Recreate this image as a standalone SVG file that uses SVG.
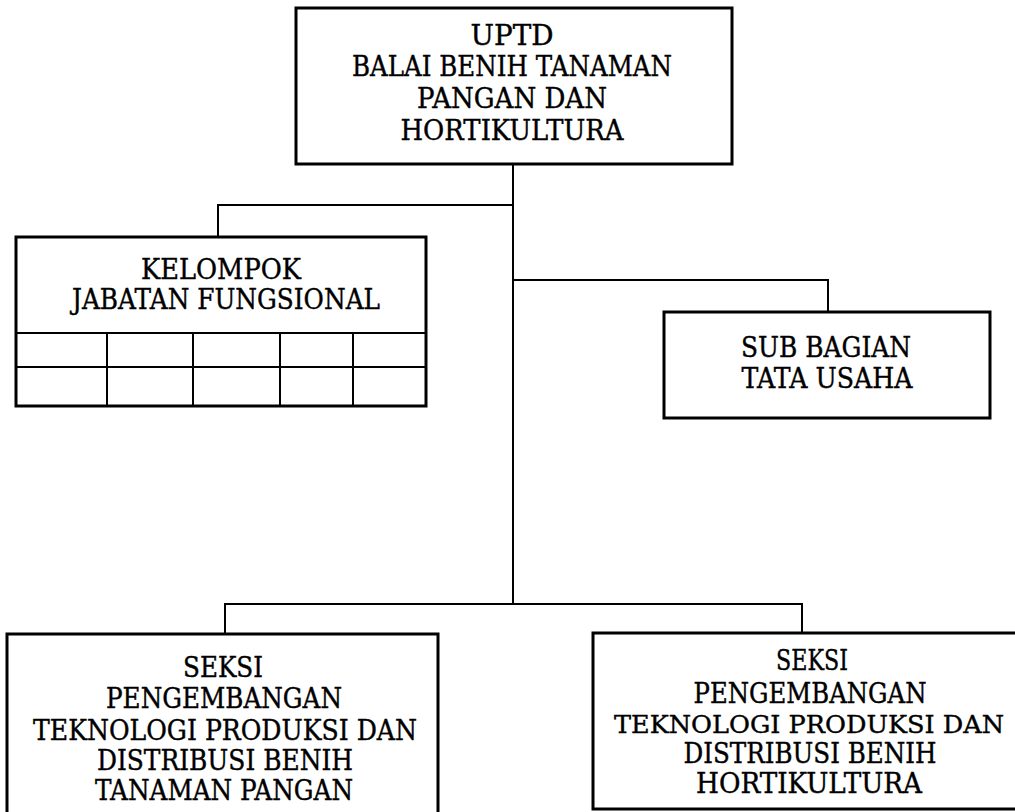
<svg xmlns="http://www.w3.org/2000/svg" width="1015" height="812" viewBox="0 0 1015 812">
<style>
.box{fill:#fff;stroke:#000;stroke-width:3}
.ln{fill:none;stroke:#000;stroke-width:2}
.cell{stroke:#000;stroke-width:2}
text{font-family:"DejaVu Serif","Liberation Serif",serif;font-size:28px;fill:#000;stroke:#000;stroke-width:0.4;text-anchor:middle}
.s{font-size:27px}
.t{font-size:25px}
</style>
<rect width="1015" height="812" fill="#fff"/>
<g id="connectors">
<path class="ln" d="M513 164 V604"/>
<path class="ln" d="M513 205 H218 V237"/>
<path class="ln" d="M513 280 H828 V312"/>
<path class="ln" d="M225 634 V604 H802 V633"/>
</g>
<g id="uptd">
<rect class="box" x="296" y="8" width="436" height="156"/>
<text x="512" y="45" textLength="83" lengthAdjust="spacingAndGlyphs">UPTD</text>
<text x="512" y="76" textLength="320" lengthAdjust="spacingAndGlyphs">BALAI BENIH TANAMAN</text>
<text x="512" y="108" textLength="190" lengthAdjust="spacingAndGlyphs">PANGAN DAN</text>
<text x="512" y="140" textLength="223" lengthAdjust="spacingAndGlyphs">HORTIKULTURA</text>
</g>
<g id="kelompok">
<rect class="box" x="16" y="237" width="410" height="169"/>
<line class="cell" x1="16" y1="333" x2="426" y2="333"/>
<line class="cell" x1="16" y1="367" x2="426" y2="367"/>
<line class="cell" x1="107" y1="333" x2="107" y2="406"/>
<line class="cell" x1="193" y1="333" x2="193" y2="406"/>
<line class="cell" x1="280" y1="333" x2="280" y2="406"/>
<line class="cell" x1="353" y1="333" x2="353" y2="406"/>
<text x="221" y="279" textLength="160" lengthAdjust="spacingAndGlyphs">KELOMPOK</text>
<text x="226" y="309" textLength="308" lengthAdjust="spacingAndGlyphs">JABATAN FUNGSIONAL</text>
</g>
<g id="subbagian">
<rect class="box" x="664" y="312" width="326" height="106"/>
<text x="826" y="357" textLength="170" lengthAdjust="spacingAndGlyphs">SUB BAGIAN</text>
<text x="827" y="388" textLength="171" lengthAdjust="spacingAndGlyphs">TATA USAHA</text>
</g>
<g id="seksi-pangan">
<rect class="box" x="7" y="634" width="431" height="190"/>
<text class="s" x="223" y="677" textLength="80" lengthAdjust="spacingAndGlyphs">SEKSI</text>
<text class="s" x="224" y="708" textLength="236" lengthAdjust="spacingAndGlyphs">PENGEMBANGAN</text>
<text class="s" x="225" y="740" textLength="384" lengthAdjust="spacingAndGlyphs">TEKNOLOGI PRODUKSI DAN</text>
<text class="s" x="225" y="770" textLength="256" lengthAdjust="spacingAndGlyphs">DISTRIBUSI BENIH</text>
<text class="s" x="224" y="800" textLength="258" lengthAdjust="spacingAndGlyphs">TANAMAN PANGAN</text>
</g>
<g id="seksi-horti">
<rect class="box" x="593" y="633" width="440" height="176"/>
<text class="s" x="812" y="670" textLength="72" lengthAdjust="spacingAndGlyphs">SEKSI</text>
<text class="s" x="810" y="703" textLength="233" lengthAdjust="spacingAndGlyphs">PENGEMBANGAN</text>
<text class="t" x="809" y="733" textLength="390" lengthAdjust="spacingAndGlyphs">TEKNOLOGI PRODUKSI DAN</text>
<text class="s" x="810" y="763" textLength="253" lengthAdjust="spacingAndGlyphs">DISTRIBUSI BENIH</text>
<text class="s" x="809" y="793" textLength="226" lengthAdjust="spacingAndGlyphs">HORTIKULTURA</text>
</g>
</svg>
